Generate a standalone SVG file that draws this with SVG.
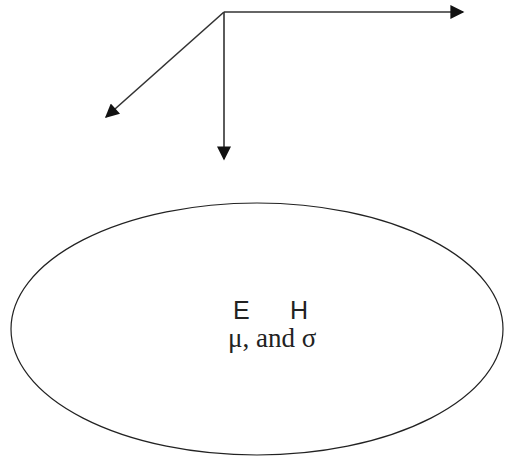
<svg xmlns="http://www.w3.org/2000/svg" width="509" height="461" viewBox="0 0 509 461">
<style>
.c{stroke:#333;stroke-width:1.6;fill:none}
.s{font-family:"Liberation Sans",Arial,sans-serif;font-size:25px;fill:#222}
.r{font-family:"Liberation Serif","Times New Roman",serif;font-size:27px;fill:#222}
</style>
<defs>
<marker id="b" viewBox="0 0 10 10" refX="9" refY="5" markerWidth="16" markerHeight="14" markerUnits="userSpaceOnUse" orient="auto"><path d="M0,0 L10,5 L0,10 z" fill="#111"/></marker>
</defs>
<g id="connectors">
<line class="c" x1="224" y1="12" x2="463" y2="12" marker-end="url(#b)"/>
<line class="c" x1="224" y1="12" x2="224" y2="159" marker-end="url(#b)"/>
<line class="c" x1="224" y1="12" x2="106" y2="117" marker-end="url(#b)"/>
</g>
<g id="region">
<ellipse cx="257" cy="329" rx="246" ry="126" fill="none" stroke="#222" stroke-width="1.2"/>
<text class="s" x="233" y="319">E</text>
<text class="s" x="290" y="319">H</text>
<text class="r" x="228" y="347">μ, and σ</text>
</g>
</svg>
